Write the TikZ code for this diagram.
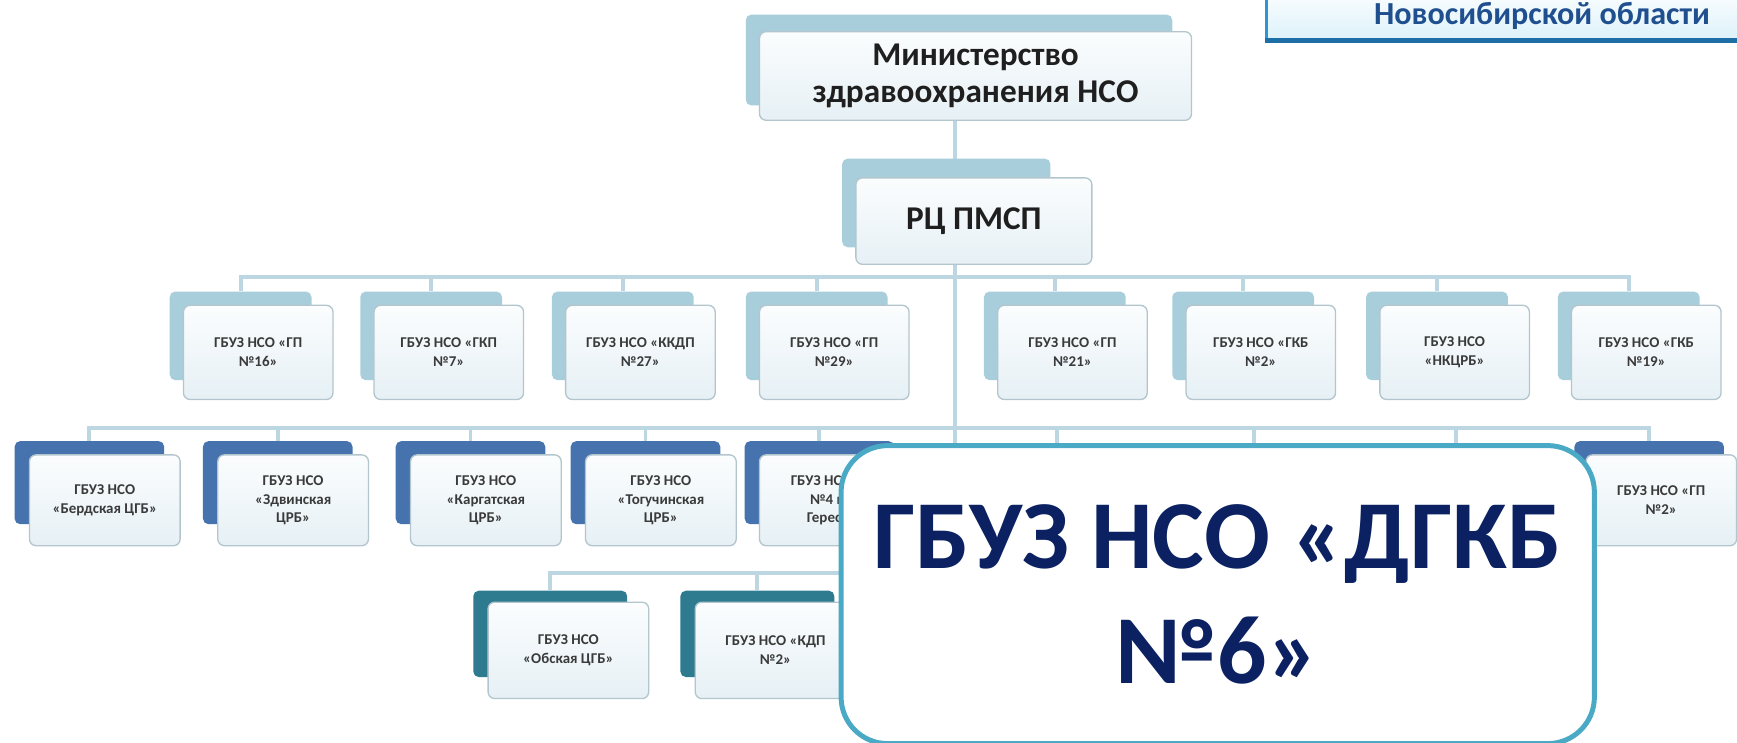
\documentclass[tikz,border=0pt]{standalone}
\usepackage{fontspec}
\setmainfont{Carlito}
\usetikzlibrary{backgrounds}
\definecolor{linec}{HTML}{BCD7E1}
\definecolor{backlt}{HTML}{A9CEDB}
\definecolor{backblue}{HTML}{4673AD}
\definecolor{backteal}{HTML}{2E7A8F}
\definecolor{frontA}{HTML}{FBFDFE}
\definecolor{frontB}{HTML}{E6F0F5}
\definecolor{frontdraw}{HTML}{B3C6CE}
\definecolor{smalltxt}{HTML}{3A3A3A}
\definecolor{headtxt}{HTML}{1F1F1F}
\definecolor{regborder}{HTML}{2D95D3}
\definecolor{regbottom}{HTML}{1D6FA5}
\definecolor{regtxt}{HTML}{1F4F8F}
\definecolor{regfill}{HTML}{DDF2FA}
\definecolor{ovborder}{HTML}{4AAAC6}
\definecolor{ovtxt}{HTML}{0B2161}
\tikzset{
  conn/.style={draw=linec, line width=3.5},
  frontbox/.style={draw=frontdraw, line width=1.2, rounded corners=6,
    top color=frontA, bottom color=frontB, anchor=north west,
    inner sep=2, align=center, text=smalltxt},
  smallfont/.style={font=\bfseries\fontsize{13.5}{17}\selectfont},
  headfont/.style={font=\bfseries\fontsize{30}{34}\selectfont, text=headtxt},
  backtab/.style={rounded corners=5, anchor=north west, inner sep=0},
  tablt/.style={backtab, fill=backlt},
  tabblue/.style={backtab, fill=backblue},
  tabteal/.style={backtab, fill=backteal},
  row2/.style={frontbox, smallfont, minimum width=135, minimum height=85},
  row3/.style={frontbox, smallfont, minimum width=136, minimum height=82},
  row4/.style={frontbox, smallfont, minimum width=145, minimum height=87},
  tab2/.style={tablt, minimum width=128, minimum height=80},
  tab3/.style={tabblue, minimum width=135, minimum height=75},
  tab4/.style={tabteal, minimum width=139, minimum height=78},
}
\begin{document}
\begin{tikzpicture}[x=1pt,y=-1pt]
\useasboundingbox (0,0) rectangle (1568,670.7);

% region box (top right)
\node[draw=regborder, line width=2.5, top color=white, bottom color=regfill,
      minimum width=498, minimum height=49, inner sep=0,
      text height=27pt, text depth=5pt,
      font=\bfseries\fontsize{29}{32}\selectfont, text=regtxt]
      (region) at (1392,11) {Новосибирской области};
\draw[regbottom, line width=4] (region.south west) -- (region.south east);

% top levels
\node[tablt, minimum width=385, minimum height=82] (minb) at (673,13) {};
\node[frontbox, headfont, minimum width=390, minimum height=80, align=center] (min) at (685,28)
  {Министерство\\здравоохранения НСО};
\node[tablt, minimum width=188, minimum height=80] (rcb) at (760,143) {};
\node[frontbox, headfont, minimum width=213, minimum height=78] (rc) at (772,160) {РЦ ПМСП};

% row 2
\node[tab2] (a1b) at (153,263) {};  \node[row2] (a1) at (165,275) {ГБУЗ НСО «ГП\\№16»};
\node[tab2] (a2b) at (325,263) {};  \node[row2] (a2) at (337,275) {ГБУЗ НСО «ГКП\\№7»};
\node[tab2] (a3b) at (498,263) {};  \node[row2] (a3) at (510,275) {ГБУЗ НСО «ККДП\\№27»};
\node[tab2] (a4b) at (673,263) {};  \node[row2] (a4) at (685,275) {ГБУЗ НСО «ГП\\№29»};
\node[tab2] (a5b) at (888,263) {};  \node[row2] (a5) at (900,275) {ГБУЗ НСО «ГП\\№21»};
\node[tab2] (a6b) at (1058,263) {}; \node[row2] (a6) at (1070,275) {ГБУЗ НСО «ГКБ\\№2»};
\node[tab2] (a7b) at (1233,263) {}; \node[row2] (a7) at (1245,275) {ГБУЗ НСО\\«НКЦРБ»};
\node[tab2] (a8b) at (1406,263) {}; \node[row2] (a8) at (1418,275) {ГБУЗ НСО «ГКБ\\№19»};

% row 3
\node[tab3] (c1b) at (13,398) {};   \node[row3] (c1) at (26,410) {ГБУЗ НСО\\«Бердская ЦГБ»};
\node[tab3] (c2b) at (183,398) {};  \node[row3] (c2) at (196,410) {ГБУЗ НСО\\«Здвинская\\ЦРБ»};
\node[tab3] (c3b) at (357,398) {};  \node[row3] (c3) at (370,410) {ГБУЗ НСО\\«Каргатская\\ЦРБ»};
\node[tab3] (c4b) at (515,398) {};  \node[row3] (c4) at (528,410) {ГБУЗ НСО\\«Тогучинская\\ЦРБ»};
\node[tab3] (c5b) at (672,398) {};  \node[row3] (c5) at (685,410) {ГБУЗ НСО «ГП\\№4 им.\\Гересса»};
\node[tab3] (c9b) at (1421,398) {}; \node[row3] (c9) at (1431,410) {ГБУЗ НСО «ГП\\№2»};

% row 4
\node[tab4] (d1b) at (427,533) {};  \node[row4] (d1) at (440,543) {ГБУЗ НСО\\«Обская ЦГБ»};
\node[tab4] (d2b) at (614,533) {};  \node[row4] (d2) at (627,543) {ГБУЗ НСО «КДП\\№2»};

% junctions
\coordinate (bus2) at (862,250);
\coordinate (bus3) at (862,386);
\coordinate (bus4) at (862,517);
\coordinate (h6) at (954,400);
\coordinate (h7) at (1132,400);
\coordinate (h8) at (1314,400);

\begin{scope}[on background layer]
  \fill[white] (0,0) rectangle (1568,670.7);
  \draw[conn] (min.south -| bus4) -- (bus4);
  \foreach \n in {a1b,a2b,a3b,a4b,a5b,a6b,a7b,a8b} \draw[conn] (\n.north) |- (bus2);
  \foreach \n in {c1b,c2b,c3b,c4b,c5b,c9b,h6,h7,h8} \draw[conn] (\n.north) |- (bus3);
  \foreach \n in {d1b,d2b} \draw[conn] (\n.north) |- (bus4);
\end{scope}

% overlay
\node[draw=ovborder, line width=4.5, fill=white, rounded corners=42,
      anchor=north west, minimum width=680, minimum height=269, inner sep=0,
      align=center, text=ovtxt, font=\bfseries\fontsize{88}{104}\selectfont]
      (ov) at (757,400) {ГБУЗ НСО «ДГКБ\\№6»};
\end{tikzpicture}
\end{document}
